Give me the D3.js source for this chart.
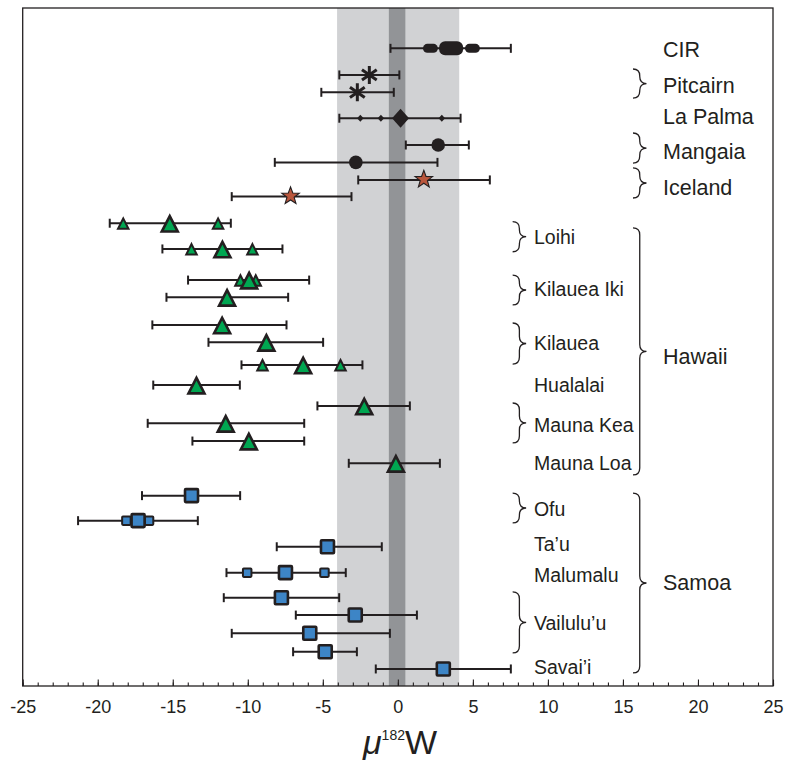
<!DOCTYPE html>
<html>
<head>
<meta charset="utf-8">
<script src="https://cdn.jsdelivr.net/npm/d3@7"></script>
<style>
  html, body { margin: 0; padding: 0; background: #fff; }
  svg { display: block; font-family: "Liberation Sans", Arial, Helvetica, sans-serif; }
</style>
</head>
<body>
<svg id="chart" width="787" height="762"></svg>
<script>
// ---------------- DATA ----------------
// row position on the (unlabelled) vertical axis, in row units from the top
const rowPos   = [2.32, 3.85, 4.85, 6.34, 7.88, 8.88, 9.89, 10.85,
                  12.38, 13.86, 15.65, 16.64, 18.23, 19.23, 20.53, 21.69, 22.89, 23.89, 24.91, 26.19,
                  28.05, 29.49, 30.99, 32.48, 33.92, 34.92, 35.97, 37.03, 38.02];
// error bar low / high (µ182W)
const rowLow   = [-0.49, -3.9, -5.1, -3.9, 0.53, -8.2, -2.64, -11.07,
                  -19.2, -15.69, -13.98, -15.42, -16.36, -12.62, -10.42, -16.3, -5.36, -16.67, -13.69, -3.27,
                  -17.05, -21.31, -8.07, -11.42, -11.6, -6.8, -11.07, -6.98, -1.47];
const rowHigh  = [7.53, 0.1, -0.27, 4.18, 4.73, 2.64, 6.13, -3.09,
                  -11.13, -7.69, -5.91, -7.31, -7.42, -4.98, -2.36, -10.53, 0.8, -6.24, -6.24, 2.8,
                  -10.51, -13.33, -1.07, -3.47, -3.91, 1.27, -0.53, -2.73, 7.53];
// main (large) marker value
const rowMain  = [3.55, -1.9, -2.7, 0.18, 2.69, -2.8, 1.73, -7.15,
                  -15.2, -11.69, -9.91, -11.38, -11.71, -8.76, -6.31, -13.42, -2.24, -11.47, -9.93, -0.13,
                  -13.75, -17.31, -4.69, -7.49, -7.76, -2.84, -5.87, -4.84, 3.03];
// individual (small) marker values
const rowExtra = [[2.17, 4.97], [], [], [-2.5, -1.13, 2.93], [], [], [], [],
                  [-18.3, -11.98], [-13.75, -9.69], [-10.49, -9.47], [], [], [], [-9.02, -3.82], [], [], [], [], [],
                  [], [-18.09, -16.58], [], [-10.04, -4.89], [], [], [], [], []];
const rowShape = ["pill", "asterisk", "asterisk", "diamond", "circle", "circle", "star", "star",
                  "triangle", "triangle", "triangle", "triangle", "triangle", "triangle", "triangle", "triangle", "triangle", "triangle", "triangle", "triangle",
                  "square", "square", "square", "square", "square", "square", "square", "square", "square"];

const groupLabels   = ["CIR", "Pitcairn", "La Palma", "Mangaia", "Iceland", "Hawaii", "Samoa"];
const groupLabelPos = [2.36, 4.43, 6.21, 8.23, 10.33, 20.05, 33.05];
const siteLabels    = ["Loihi", "Kilauea Iki", "Kilauea", "Hualalai", "Mauna Kea", "Mauna Loa",
                       "Ofu", "Ta’u", "Malumalu", "Vailulu’u", "Savai’i"];
const siteLabelPos  = [13.17, 16.19, 19.27, 21.69, 23.99, 26.17, 28.79, 30.83, 32.61, 35.38, 37.91];

// braces: [top, bottom] in row units
const groupBraces = [[3.51, 5.18], [7.19, 8.92], [9.2, 10.93], [12.65, 26.86], [27.9, 38.25]];
const siteBraces  = [[12.29, 14.02], [15.36, 17.08], [18.12, 20.48], [22.72, 25.02], [27.9, 29.62], [33.59, 37.1]];

const xDomain = [-25, 25];
const majorTicks = [-25, -20, -15, -10, -5, 0, 5, 10, 15, 20, 25];
const outerBand = [-4.05, 4.09];
const innerBand = [-0.6, 0.5];

// ---------------- LAYOUT ----------------
const svg = d3.select("#chart");
const pLeft = 22.7, pRight = 773, pTop = 8, pBottom = 686;
const x = d3.scaleLinear().domain(xDomain).range([pLeft, pRight]);
const y = d3.scaleLinear().domain([0, 39]).range([pTop, pBottom]);

const ink = "#231f20";
const colors = { triangle: "#00a651", square: "#3d85c6", star: "#b9563c" };

// bands
svg.append("rect").attr("x", x(outerBand[0])).attr("y", pTop)
  .attr("width", x(outerBand[1]) - x(outerBand[0])).attr("height", pBottom - pTop)
  .attr("fill", "#d1d2d4");
svg.append("rect").attr("x", x(innerBand[0])).attr("y", pTop)
  .attr("width", x(innerBand[1]) - x(innerBand[0])).attr("height", pBottom - pTop)
  .attr("fill", "#929497");

// axis ticks (inward)
const minorAxis = d3.axisBottom(x).tickValues(d3.range(-25, 26, 1)).tickSize(-3.5).tickFormat("");
const majorAxis = d3.axisBottom(x).tickValues(majorTicks).tickSize(-6.5).tickPadding(14).tickFormat(d3.format("d"));
const gMin = svg.append("g").attr("transform", `translate(0,${pBottom})`).call(minorAxis);
const gMaj = svg.append("g").attr("transform", `translate(0,${pBottom})`).call(majorAxis);
[gMin, gMaj].forEach(g => {
  g.select(".domain").remove();
  g.selectAll(".tick line").attr("stroke", ink).attr("stroke-width", 1.1);
});
gMaj.selectAll(".tick text").attr("fill", ink).attr("font-size", 18)
  .attr("font-family", "Liberation Sans, Arial, sans-serif")
  .text(d => d < 0 ? "-" + Math.abs(d) : d);

// frame
svg.append("rect").attr("x", pLeft).attr("y", pTop).attr("width", pRight - pLeft).attr("height", pBottom - pTop)
  .attr("fill", "none").attr("stroke", ink).attr("stroke-width", 1.3);

// error bars
const rows = rowPos.map((p, i) => ({ p, lo: rowLow[i], hi: rowHigh[i], main: rowMain[i], extra: rowExtra[i], shape: rowShape[i] }));
const bars = svg.append("g");
rows.forEach(r => {
  const yy = y(r.p);
  bars.append("line").attr("x1", x(r.lo)).attr("x2", x(r.hi)).attr("y1", yy).attr("y2", yy)
    .attr("stroke", ink).attr("stroke-width", 2);
  [r.lo, r.hi].forEach(v => bars.append("line").attr("x1", x(v)).attr("x2", x(v))
    .attr("y1", yy - 4.5).attr("y2", yy + 4.5).attr("stroke", ink).attr("stroke-width", 2));
});

// marker drawing
function triPath(w, h) { return `M0,${-h/2}L${w/2},${h/2}L${-w/2},${h/2}Z`; }
function starPath(R, r) {
  let d = "";
  for (let k = 0; k < 10; k++) {
    const a = -Math.PI / 2 + k * Math.PI / 5;
    const rr = k % 2 === 0 ? R : r;
    d += (k === 0 ? "M" : "L") + (rr * Math.cos(a)).toFixed(2) + "," + (rr * Math.sin(a)).toFixed(2);
  }
  return d + "Z";
}
function asteriskPath(r) {
  let d = "";
  [90, 35, 145].forEach(deg => {
    const a = deg * Math.PI / 180;
    d += `M${(r * Math.cos(a)).toFixed(2)},${(-r * Math.sin(a)).toFixed(2)}L${(-r * Math.cos(a)).toFixed(2)},${(r * Math.sin(a)).toFixed(2)}`;
  });
  return d;
}
const marks = svg.append("g");
function drawMarker(shape, cx, cy, big) {
  const g = marks.append("g").attr("transform", `translate(${cx},${cy})`);
  switch (shape) {
    case "pill": {
      const w = big ? 24 : 15, h = big ? 14 : 9;
      g.append("rect").attr("x", -w/2).attr("y", -h/2).attr("width", w).attr("height", h)
        .attr("rx", big ? 6 : 4.5).attr("fill", ink);
      break;
    }
    case "asterisk":
      g.append("path").attr("d", asteriskPath(9)).attr("stroke", ink).attr("stroke-width", 3).attr("fill", "none");
      break;
    case "diamond": {
      const w = big ? 17 : 6.5, h = big ? 19 : 7;
      g.append("path").attr("d", `M0,${-h/2}L${w/2},0L0,${h/2}L${-w/2},0Z`).attr("fill", ink);
      break;
    }
    case "circle":
      g.append("circle").attr("r", 6.8).attr("fill", ink);
      break;
    case "star":
      g.append("path").attr("d", starPath(9.2, 3.8)).attr("transform", "translate(0,-0.5)")
        .attr("fill", colors.star).attr("stroke", ink).attr("stroke-width", 1.1).attr("stroke-linejoin", "miter");
      break;
    case "triangle":
      if (big) g.append("path").attr("d", triPath(16, 15.5)).attr("fill", colors.triangle)
        .attr("stroke", ink).attr("stroke-width", 2.6).attr("transform", "translate(0,0.6)");
      else g.append("path").attr("d", triPath(10.5, 10.5)).attr("fill", colors.triangle)
        .attr("stroke", ink).attr("stroke-width", 2).attr("transform", "translate(0,0.4)");
      break;
    case "square": {
      const s = big ? 13 : 8.5;
      g.append("rect").attr("x", -s/2).attr("y", -s/2).attr("width", s).attr("height", s)
        .attr("fill", colors.square).attr("stroke", ink).attr("stroke-width", big ? 2.6 : 2).attr("rx", 0.8);
      break;
    }
  }
}
rows.forEach(r => {
  r.extra.forEach(v => drawMarker(r.shape, x(v), y(r.p), false));
  drawMarker(r.shape, x(r.main), y(r.p), true);
});

// braces
function bracePath(x0, w, y0, y1) {
  const xm = x0 + w / 2, x1 = x0 + w, ym = (y0 + y1) / 2;
  const q = Math.min(7, (y1 - y0) / 4);
  return `M${x0},${y0}Q${xm},${y0} ${xm},${y0 + q}L${xm},${ym - q}Q${xm},${ym} ${x1},${ym}` +
         `Q${xm},${ym} ${xm},${ym + q}L${xm},${y1 - q}Q${xm},${y1} ${x0},${y1}`;
}
const braceG = svg.append("g").attr("fill", "none").attr("stroke", ink).attr("stroke-width", 1.3);
groupBraces.forEach(([a, b]) => braceG.append("path").attr("d", bracePath(x(15.67), 13.5, y(a), y(b))));
siteBraces.forEach(([a, b]) => braceG.append("path").attr("d", bracePath(x(7.65), 13.5, y(a), y(b))));

// labels
svg.append("g").selectAll("text").data(groupLabels).join("text")
  .attr("x", x(17.67)).attr("y", (d, i) => y(groupLabelPos[i]))
  .attr("dy", "0.36em").attr("font-size", 21.5).attr("fill", ink).text(d => d);
svg.append("g").selectAll("text").data(siteLabels).join("text")
  .attr("x", x(9.07)).attr("y", (d, i) => y(siteLabelPos[i]))
  .attr("dy", "0.36em").attr("font-size", 19.5).attr("fill", ink).text(d => d);

// x title
const title = svg.append("text").attr("x", 400).attr("y", 754).attr("text-anchor", "middle")
  .attr("font-size", 34).attr("fill", ink);
title.append("tspan").attr("font-style", "italic").text("μ");
title.append("tspan").attr("font-size", 14).attr("dy", -14).text("182");
title.append("tspan").attr("dy", 14).text("W");
</script>
</body>
</html>
